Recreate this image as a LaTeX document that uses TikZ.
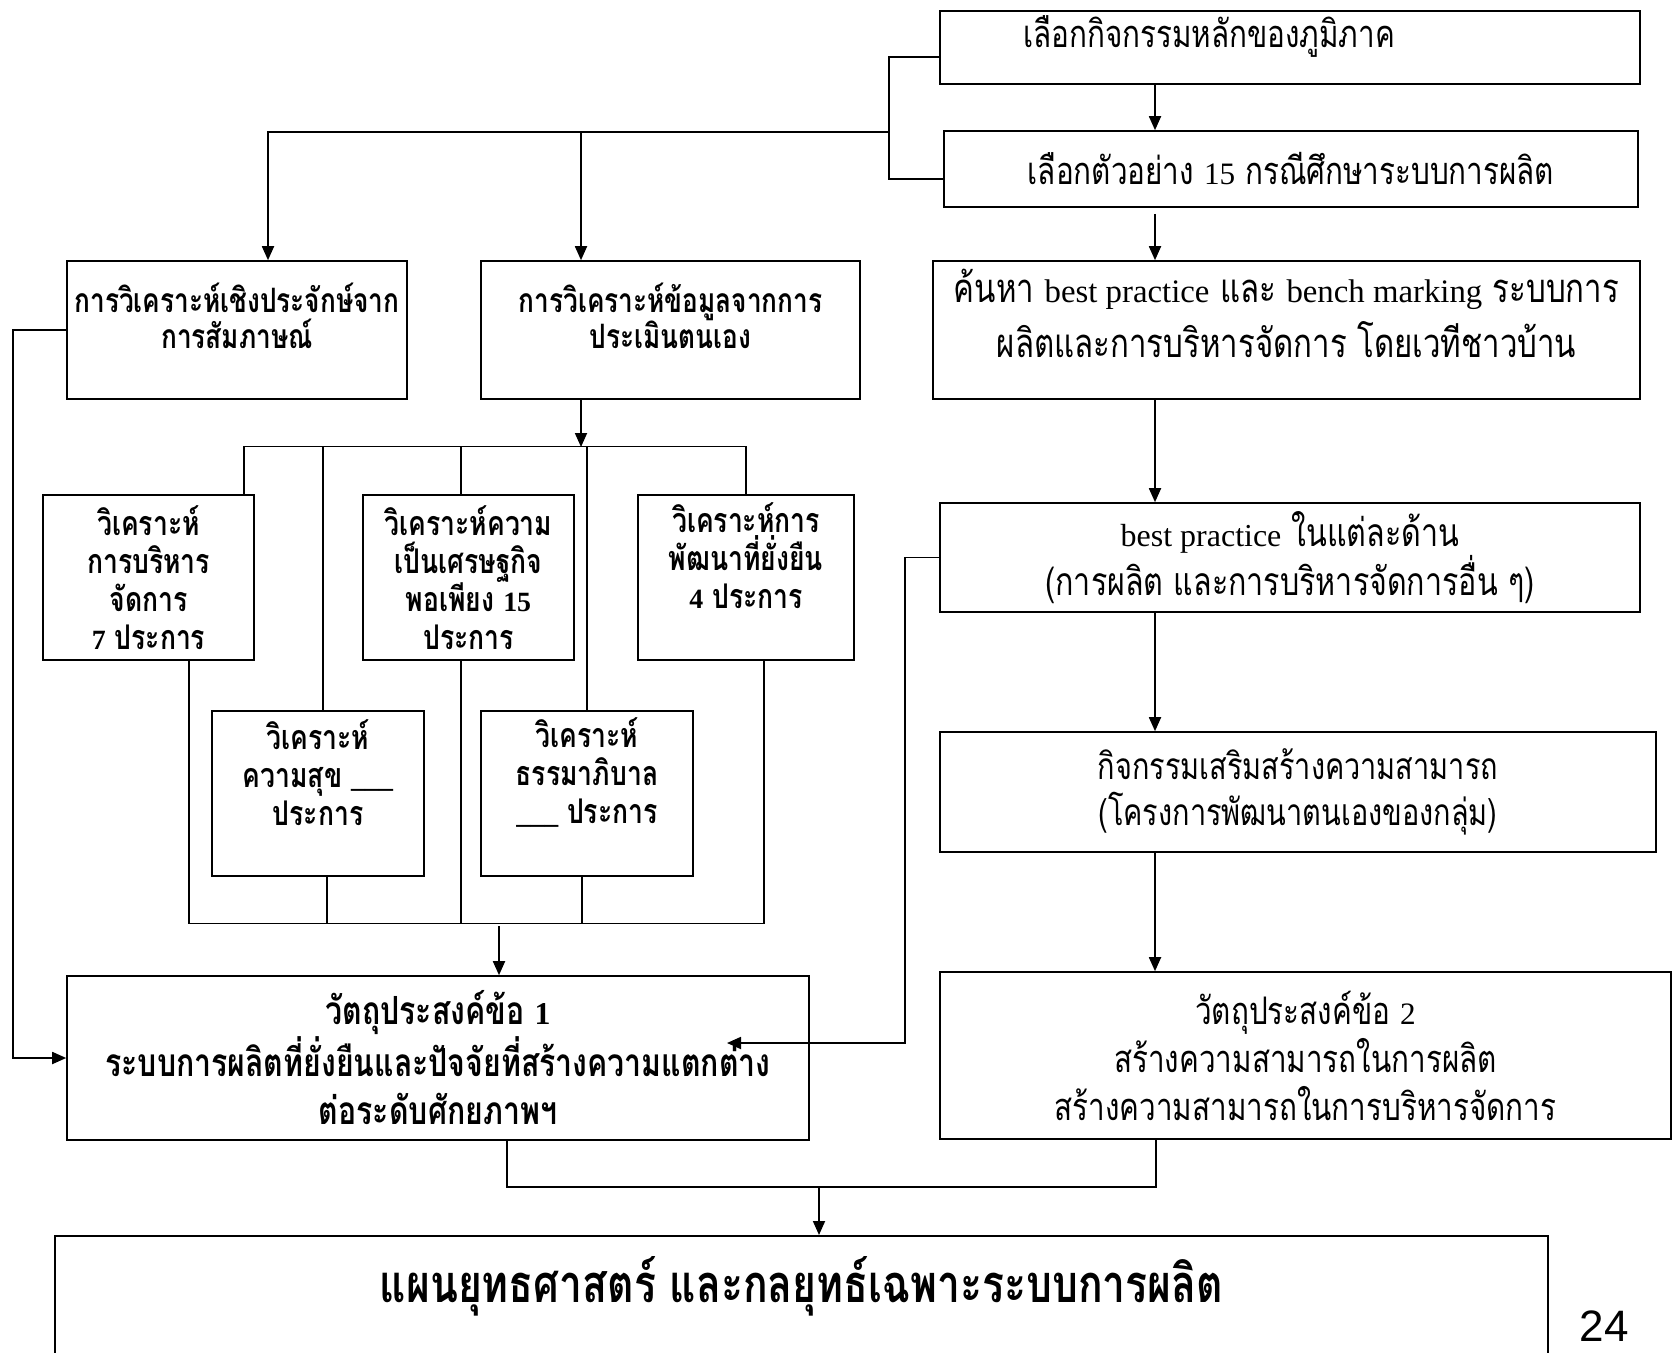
\documentclass[tikz,border=0pt]{standalone}
\usepackage{fontspec}
\setmainfont{Liberation Serif}
\newfontfamily\thai[Script=Thai,FakeStretch=0.78]{Loma}
\newfontfamily\enfont[Scale=0.82]{Liberation Serif}
\newfontfamily\pagenum{Liberation Sans}
\newcommand{\eng}[1]{{\enfont #1}}
\newcommand{\lowstrut}[1]{\rule[-#1]{0pt}{0pt}}
\usetikzlibrary{arrows.meta}
\tikzset {
    style A/.style={
        draw=black,
        line width=0.8pt,
        rectangle, % Set the shape as a rectangle
        inner sep=0pt,
        align=center,
        font=\thai\fontsize{19}{24}\selectfont,
    },
    style B/.style={
        draw=black,
        line width=0.8pt,
        rectangle, % Set the shape as a rectangle
        inner sep=0pt,
        align=center,
        font=\thai\bfseries\fontsize{16.8}{18}\selectfont,
    },
    style C/.style={
        draw=black,
        line width=0.7pt,
        rectangle, % Set the shape as a rectangle
        inner sep=0pt,
        minimum width=106pt,
        minimum height=82.5pt,
        align=center,
        font=\thai\bfseries\fontsize{17}{19}\selectfont,
    },
    style D/.style={
        draw=black,
        line width=0.8pt,
        rectangle, % Set the shape as a rectangle
        inner sep=0pt,
        align=center,
        font=\thai\bfseries\fontsize{26.2}{30}\selectfont,
    },
    link/.style={draw=black, line width=0.8pt},
    bus/.style={draw=black, line width=0.6pt},
    arrow/.style={draw=black, line width=0.9pt, -{Triangle[length=7pt,width=6pt]}},
}
\begin{document}
\begin{tikzpicture}[x=0.5pt, y=-0.5pt]
    \useasboundingbox (0,0) rectangle (1680,1353);
    \clip (0,0) rectangle (1680,1353);

    % right column
    \node[style A, align=left, text width=267pt, inner xsep=41.5pt,
        text height=18.5pt, text depth=18pt, minimum width=350pt] (sel) at (1290,47.5)
        {เลือกกิจกรรมหลักของภูมิภาค};
    \node[style A, minimum width=347pt, minimum height=38pt] (case) at (1291,169)
        {เลือกตัวอย่าง \eng{15} กรณีศึกษาระบบการผลิต};
    \node[style A, minimum width=353.5pt, minimum height=69pt,
        font=\thai\fontsize{20}{27.5}\selectfont] (bench) at (1286.5,330)
        {ค้นหา \eng{best practice} และ \eng{bench marking} ระบบการ\\
         ผลิตและการบริหารจัดการ โดยเวทีชาวบ้าน\lowstrut{17pt}};
    \node[style A, minimum width=350pt, minimum height=54.5pt,
        font=\thai\fontsize{19.5}{23}\selectfont] (best) at (1290,557.5)
        {\eng{best practice} ในแต่ละด้าน\\(การผลิต และการบริหารจัดการอื่น ๆ)};
    \node[style A, minimum width=358pt, minimum height=60pt,
        font=\thai\fontsize{18.5}{23}\selectfont] (act) at (1298,792)
        {กิจกรรมเสริมสร้างความสามารถ\\(โครงการพัฒนาตนเองของกลุ่ม)};
    \node[style A, minimum width=365.5pt, minimum height=83.5pt] (obj2) at (1305.5,1055.5)
        {วัตถุประสงค์ข้อ \eng{2}\\สร้างความสามารถในการผลิต\\สร้างความสามารถในการบริหารจัดการ};

    % left part
    \node[style B, minimum width=170pt, minimum height=69pt] (emp) at (237,330)
        {การวิเคราะห์เชิงประจักษ์จาก\\การสัมภาษณ์\lowstrut{14pt}};
    \node[style B, minimum width=189.5pt, minimum height=69pt] (self) at (670.5,330)
        {การวิเคราะห์ข้อมูลจากการ\\ประเมินตนเอง\lowstrut{14pt}};
    \node[style C, minimum width=105.5pt] (mgmt) at (148.5,577.5)
        {วิเคราะห์\\การบริหาร\\จัดการ\\\eng{7} ประการ};
    \node[style C, minimum width=105.5pt] (suff) at (468.5,577.5)
        {วิเคราะห์ความ\\เป็นเศรษฐกิจ\\พอเพียง \eng{15}\\ประการ};
    \node[style C, minimum width=108pt] (sust) at (746,577.5)
        {วิเคราะห์การ\\พัฒนาที่ยั่งยืน\\\eng{4} ประการ\lowstrut{22pt}};
    \node[style C] (happy) at (318,793.5)
        {วิเคราะห์\\ความสุข \eng{\_\_\_}\\ประการ\lowstrut{21pt}};
    \node[style C] (gov) at (587,793.5)
        {วิเคราะห์\\ธรรมาภิบาล\\\eng{\_\_\_} ประการ\lowstrut{23pt}};
    \node[style B, minimum width=371pt, minimum height=82pt,
        font=\thai\bfseries\fontsize{19.4}{24}\selectfont] (obj1) at (438,1058)
        {วัตถุประสงค์ข้อ \eng{1}\\ระบบการผลิตที่ยั่งยืนและปัจจัยที่สร้างความแตกต่าง\\ต่อระดับศักยภาพฯ};

    % bottom
    \node[style D, anchor=north, minimum width=746.5pt,
        text height=33.5pt, text depth=49pt] (plan) at (801.5,1235)
        {แผนยุทธศาสตร์ และกลยุทธ์เฉพาะระบบการผลิต};
    \node[font=\pagenum\fontsize{22}{22}\selectfont] (page) at (1604,1326) {24};

    \coordinate (spine) at (1155,0);
    \coordinate (split) at (889,132);
    \coordinate (lft) at (13,0);
    \coordinate (rgt) at (905,1043);
    \coordinate (tip) at (727,1043);
    \coordinate (merge) at (819,1187);
    \coordinate (busT) at (0,447);
    \coordinate (tapE) at ([xshift=15.5pt]emp.north);
    \coordinate (tapS) at ([xshift=-44.75pt]self.north);

    % right column arrows
    \draw[arrow] (sel.south -| spine) -- (case.north -| spine);
    \draw[arrow, shorten <=3pt] (case.south -| spine) -- (bench.north -| spine);
    \draw[arrow] (bench.south -| spine) -- (best.north -| spine);
    \draw[arrow] (best.south -| spine) -- (act.north -| spine);
    \draw[arrow] (act.south -| spine) -- (obj2.north -| spine);

    % split to the two analyses
    \draw[link] ([yshift=-4.75pt]sel.west) -| (split) |- ([yshift=-5pt]case.west);
    \draw[arrow] (split) -| (tapE);
    \draw[arrow] (tapS |- split) -- (tapS);

    % self assessment bus
    \draw[arrow] (self.south -| tapS) -- (tapS |- busT);
    \draw[bus] ([xshift=47.75pt]mgmt.north) -- ++(0,-48) -| (sust.north);
    \draw[bus] ([xshift=2.5pt]happy.north) -- ++(0,-264);
    \draw[bus] ([xshift=-3.75pt]suff.north) -- ++(0,-48);
    \draw[bus] (gov.north) -- ++(0,-264);
    \draw[bus] ([xshift=20.25pt]mgmt.south) -- ++(0,263) -| ([xshift=9pt]sust.south);
    \draw[bus] ([xshift=4.5pt]happy.south) -- ++(0,47);
    \draw[bus] ([xshift=-3.75pt]suff.south) -- ++(0,263);
    \draw[bus] ([xshift=-2.5pt]gov.south) -- ++(0,47);
    \draw[arrow] ([xshift=30.5pt]obj1.north) ++(0,-49) -- ([xshift=30.5pt]obj1.north);

    % side connectors
    \draw[arrow] (emp.west) -| (lft |- obj1.west) -- (obj1.west);
    \draw[arrow] (best.west) -| (rgt) -- (tip);

    % merge to plan
    \draw[link] ([xshift=34.5pt]obj1.south) |- (merge) -| ([xshift=-74.75pt]obj2.south);
    \draw[arrow] (merge) -- (plan.north -| merge);
\end{tikzpicture}
\end{document}
